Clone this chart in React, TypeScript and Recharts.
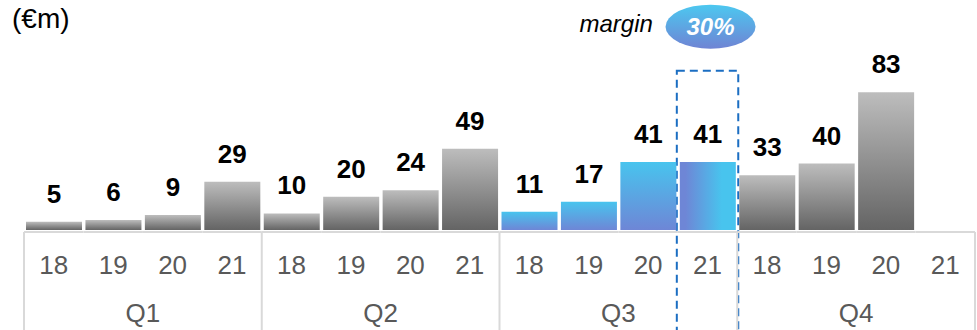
import React from 'react';
import { BarChart, Bar, XAxis, YAxis, Cell, LabelList, ReferenceArea, Label } from 'recharts';

const quarters = ['Q1', 'Q2', 'Q3', 'Q4'];
const years = ['18', '19', '20', '21'];
const q1Values: (number | null)[] = [5, 6, 9, 29];
const q2Values: (number | null)[] = [10, 20, 24, 49];
const q3Values: (number | null)[] = [11, 17, 41, 41];
const q4Values: (number | null)[] = [33, 40, 83, null];
const highlightQuarter = 'Q3';
const focusKey = 'Q3-21';
const marginLabel = 'margin';
const marginValue = '30%';
const unitLabel = '(€m)';

const valuesByQuarter = [q1Values, q2Values, q3Values, q4Values];
const data = quarters.flatMap((q, qi) =>
  years.map((y, yi) => ({ key: `${q}-${y}`, quarter: q, year: y, value: valuesByQuarter[qi][yi] }))
);

const W = 977;
const H = 330;
const ML = 24;
const MR = 2;
const MT = 64;
const SLOT = (W - ML - MR) / data.length;
const FONT = '"Liberation Sans", Arial, sans-serif';
const GRID = '#d9d9d9';

const YearTick = (props: any) => {
  const { x, y, index } = props;
  const row = data[index];
  const half = SLOT / 2;
  return (
    <g>
      <line x1={x - half} x2={x + half} y1={y + 2} y2={y + 2} stroke={GRID} strokeWidth={2} />
      {index % 4 === 0 && (
        <line x1={x - half} x2={x - half} y1={y + 2} y2={y + 110} stroke={GRID} strokeWidth={2} />
      )}
      {index === data.length - 1 && (
        <line x1={x + half} x2={x + half} y1={y + 2} y2={y + 110} stroke={GRID} strokeWidth={2} />
      )}
      <text x={x} y={y + 44} textAnchor="middle" fontSize={26} fill="#595959" fontFamily={FONT}>
        {row ? row.year : ''}
      </text>
    </g>
  );
};

const QuarterTick = (props: any) => {
  const { x, y, index } = props;
  if (index % 4 !== 1) return <g />;
  const row = data[index];
  return (
    <text x={x + SLOT / 2} y={y + 42} textAnchor="middle" fontSize={26} fill="#595959" fontFamily={FONT}>
      {row.quarter}
    </text>
  );
};

const ValueLabel = (props: any) => {
  const { x, y, width, value } = props;
  if (value === null || value === undefined) return null;
  return (
    <text x={x + width / 2} y={y - 19} textAnchor="middle" fontSize={26} fontWeight="bold" fill="#000" fontFamily={FONT}>
      {value}
    </text>
  );
};

const Badge = (props: any) => {
  const vb = props.viewBox || {};
  const cx = vb.x + vb.width / 2 + 3;
  const cy = vb.y - 44;
  return (
    <g>
      <text x={vb.x - 25} y={vb.y - 39} textAnchor="end" fontSize={24} fontStyle="italic" fill="#000" fontFamily={FONT}>
        {marginLabel}
      </text>
      <ellipse cx={cx} cy={cy} rx={45} ry={22} fill="url(#badgeGrad)" />
      <text x={cx} y={cy + 8} textAnchor="middle" fontSize={24} fontStyle="italic" fontWeight="bold" fill="#fff" fontFamily={FONT}>
        {marginValue}
      </text>
    </g>
  );
};

const FocusBox = (props: any) => {
  const { x, y, width, height } = props;
  return (
    <rect
      x={x - 1}
      y={y}
      width={width + 2}
      height={height}
      fill="none"
      stroke="#1b6ec2"
      strokeWidth={2}
      strokeDasharray="8 5"
    />
  );
};

const fillFor = (row: any) => {
  if (row.key === focusKey) return 'url(#blueH)';
  if (row.quarter === highlightQuarter) return 'url(#blueV)';
  return 'url(#grayV)';
};

export default function App() {
  return (
    <div style={{ position: 'absolute', left: 0, top: 0, width: W, height: H, background: '#fff' }}>
      <div
        style={{
          position: 'absolute',
          left: 12,
          top: 4,
          fontSize: 28,
          fontFamily: FONT,
          color: '#000',
          lineHeight: '30px',
        }}
      >
        {unitLabel}
      </div>
      <BarChart width={W} height={H} data={data} margin={{ top: MT, right: MR, left: ML, bottom: 0 }} barSize={56}>
        <defs>
          <linearGradient id="grayV" x1="0" y1="0" x2="0" y2="1">
            <stop offset="0%" stopColor="#bdbdbd" />
            <stop offset="100%" stopColor="#646464" />
          </linearGradient>
          <linearGradient id="blueV" x1="0" y1="0" x2="0" y2="1">
            <stop offset="0%" stopColor="#48c4ee" />
            <stop offset="100%" stopColor="#6e86d6" />
          </linearGradient>
          <linearGradient id="blueH" x1="0" y1="0" x2="1" y2="0">
            <stop offset="10%" stopColor="#6e86d6" />
            <stop offset="75%" stopColor="#48c4ee" />
          </linearGradient>
          <linearGradient id="badgeGrad" x1="0" y1="0" x2="0" y2="1">
            <stop offset="0%" stopColor="#4cc8f0" />
            <stop offset="100%" stopColor="#6f84d4" />
          </linearGradient>
        </defs>
        <XAxis
          dataKey="key"
          height={50}
          axisLine={false}
          tickLine={false}
          tickSize={0}
          tickMargin={0}
          interval={0}
          tick={<YearTick />}
        />
        <XAxis
          xAxisId="q"
          dataKey="key"
          height={50}
          axisLine={false}
          tickLine={false}
          tickSize={0}
          tickMargin={0}
          interval={0}
          tick={<QuarterTick />}
        />
        <YAxis hide domain={[0, 100]} />
        <Bar dataKey="value" isAnimationActive={false}>
          {data.map((row) => (
            <Cell key={row.key} fill={fillFor(row)} />
          ))}
          <LabelList dataKey="value" content={<ValueLabel />} />
        </Bar>
        <ReferenceArea
          x1={focusKey}
          x2={focusKey}
          y1={-64}
          y2={96}
          ifOverflow="visible"
          shape={<FocusBox />}
        >
          <Label content={<Badge />} />
        </ReferenceArea>
      </BarChart>
    </div>
  );
}
